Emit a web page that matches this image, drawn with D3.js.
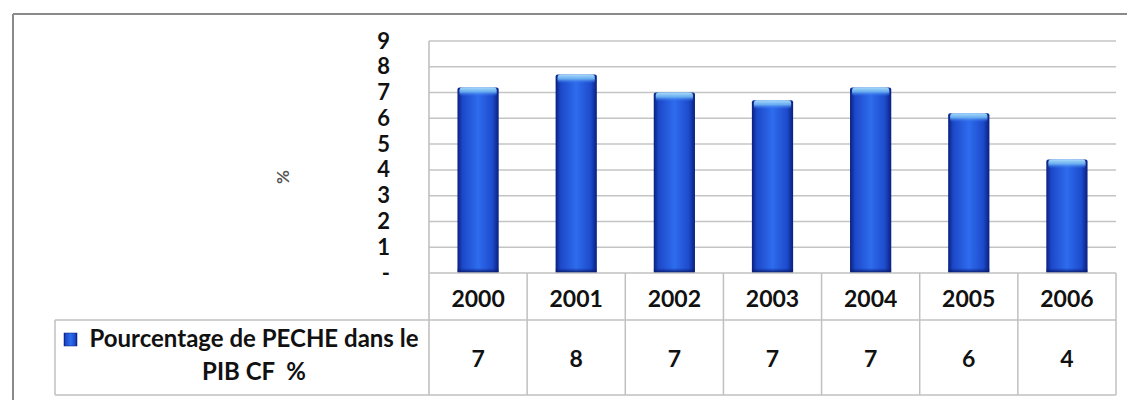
<!DOCTYPE html>
<html>
<head>
<meta charset="utf-8">
<script src="https://cdn.jsdelivr.net/npm/d3@7/dist/d3.min.js"></script>
<style>
  html, body { margin: 0; padding: 0; background: #fff; }
  svg { display: block; }
  text { font-family: Lato, "Open Sans", sans-serif; white-space: pre; }
</style>
</head>
<body>
<svg id="chart" width="1127" height="400"></svg>
<script>
// ---- data ----
const years = ["2000", "2001", "2002", "2003", "2004", "2005", "2006"];
const values = [7.2, 7.7, 7.0, 6.7, 7.2, 6.2, 4.4];
const yTicks = [0, 1, 2, 3, 4, 5, 6, 7, 8, 9];
const seriesName = ["Pourcentage de PECHE dans le", "PIB CF  %"];
const yTitle = "%";

// ---- layout ----
const W = 1127, H = 400;
const plot = { left: 429, right: 1116, top: 41, bottom: 273 };
const table = { yearBottom: 320, bottom: 395, legendLeft: 55 };

const svg = d3.select("#chart");

// outer frame
svg.append("line").attr("x1", 13).attr("x2", W).attr("y1", 14).attr("y2", 14)
  .attr("stroke", "#8a8a8a").attr("stroke-width", 2);
svg.append("line").attr("x1", 13).attr("x2", 13).attr("y1", 14).attr("y2", H)
  .attr("stroke", "#8a8a8a").attr("stroke-width", 2);

const x = d3.scaleBand().domain(years).range([plot.left, plot.right])
  .paddingInner(0.58).paddingOuter(0.29);
const y = d3.scaleLinear().domain([0, 9]).range([plot.bottom, plot.top]);

// gradients
const defs = svg.append("defs");
const gh = defs.append("linearGradient").attr("id", "barH").attr("x1", "0").attr("x2", "1").attr("y1", "0").attr("y2", "0");
[[0, "#0a1f7e"], [0.12, "#1c48c8"], [0.5, "#2e6cee"], [0.85, "#1d4bcc"], [1, "#0a1f7e"]]
  .forEach(([o, c]) => gh.append("stop").attr("offset", o).attr("stop-color", c));
const gTop = defs.append("linearGradient").attr("id", "barTop").attr("x1", "0").attr("x2", "0").attr("y1", "0").attr("y2", "1");
[[0, "#a8dcfa", 1], [0.5, "#6fb4f2", 0.9], [1, "#2e6cee", 0]]
  .forEach(([o, c, a]) => gTop.append("stop").attr("offset", o).attr("stop-color", c).attr("stop-opacity", a));
const gBot = defs.append("linearGradient").attr("id", "barBot").attr("x1", "0").attr("x2", "0").attr("y1", "0").attr("y2", "1");
[[0, "#0a1f7e", 0], [1, "#071660", 1]]
  .forEach(([o, c, a]) => gBot.append("stop").attr("offset", o).attr("stop-color", c).attr("stop-opacity", a));

// gridlines
svg.append("g").selectAll("line").data(yTicks.filter(d => d > 0)).join("line")
  .attr("x1", plot.left).attr("x2", plot.right)
  .attr("y1", d => y(d)).attr("y2", d => y(d))
  .attr("stroke", "#c4c4c4").attr("stroke-width", 1.5);

// y axis (labels only)
const yAxis = d3.axisLeft(y).tickValues(yTicks).tickSize(0).tickPadding(0)
  .tickFormat(d => d === 0 ? "-" : d3.format("d")(d));
const ya = svg.append("g").attr("transform", `translate(390,0)`).call(yAxis);
ya.select(".domain").remove();
ya.selectAll("text").attr("font-size", 22).attr("font-weight", "bold").attr("fill", "#111")
  .attr("font-family", "Lato, sans-serif");

// y title
svg.append("text").attr("transform", "translate(282,177) rotate(-90)")
  .attr("text-anchor", "middle").attr("dominant-baseline", "central")
  .attr("font-size", 17).attr("font-weight", "bold").attr("fill", "#555").text(yTitle);

// bars
const bars = svg.append("g").selectAll("g").data(years.map((yr, i) => ({ yr, v: values[i] }))).join("g");
bars.append("rect")
  .attr("x", d => x(d.yr)).attr("width", x.bandwidth())
  .attr("y", d => y(d.v)).attr("height", d => y(0) - y(d.v))
  .attr("rx", 2).attr("fill", "url(#barH)");
bars.append("rect")
  .attr("x", d => x(d.yr) + 2).attr("width", x.bandwidth() - 4)
  .attr("y", d => y(d.v)).attr("height", 9)
  .attr("rx", 3).attr("fill", "url(#barTop)");
bars.append("rect")
  .attr("x", d => x(d.yr)).attr("width", x.bandwidth())
  .attr("y", y(0) - 5).attr("height", 5)
  .attr("fill", "url(#barBot)");

// plot left border
svg.append("line").attr("x1", plot.left).attr("x2", plot.left).attr("y1", plot.top).attr("y2", table.bottom)
  .attr("stroke", "#bdbdbd").attr("stroke-width", 1.5);

// data table
const tg = svg.append("g");
const lineStyle = sel => sel.attr("stroke", "#c0c0c0").attr("stroke-width", 1.5);
tg.append("line").attr("x1", plot.left).attr("x2", plot.right).attr("y1", plot.bottom).attr("y2", plot.bottom).call(lineStyle);
tg.append("line").attr("x1", table.legendLeft).attr("x2", plot.right).attr("y1", table.yearBottom).attr("y2", table.yearBottom).call(lineStyle);
tg.append("line").attr("x1", table.legendLeft).attr("x2", plot.right).attr("y1", table.bottom).attr("y2", table.bottom).call(lineStyle);
const step = x.step();
tg.selectAll("line.v").data(years).join("line").attr("class", "v")
  .attr("x1", d => x(d) + x.bandwidth() / 2 + step / 2).attr("x2", d => x(d) + x.bandwidth() / 2 + step / 2)
  .attr("y1", plot.bottom).attr("y2", table.bottom).call(lineStyle);
tg.append("line").attr("x1", table.legendLeft).attr("x2", table.legendLeft).attr("y1", table.yearBottom).attr("y2", table.bottom).call(lineStyle);

// year labels
tg.selectAll("text.yr").data(years).join("text").attr("class", "yr")
  .attr("x", d => x(d) + x.bandwidth() / 2).attr("y", (plot.bottom + table.yearBottom) / 2 + 1)
  .attr("text-anchor", "middle").attr("dominant-baseline", "central")
  .attr("font-size", 23).attr("font-weight", "bold").attr("fill", "#111").text(d => d);

// value labels
tg.selectAll("text.val").data(years.map((yr, i) => ({ yr, v: values[i] }))).join("text").attr("class", "val")
  .attr("x", d => x(d.yr) + x.bandwidth() / 2).attr("y", (table.yearBottom + table.bottom) / 2)
  .attr("text-anchor", "middle").attr("dominant-baseline", "central")
  .attr("font-size", 23).attr("font-weight", "bold").attr("fill", "#111").text(d => d3.format(".0f")(d.v));

// legend cell
tg.append("rect").attr("x", 64).attr("y", 333).attr("width", 13).attr("height", 13)
  .attr("fill", "url(#barH)").attr("stroke", "#0a1f7e").attr("stroke-width", 0.5);
tg.selectAll("text.leg").data(seriesName).join("text").attr("class", "leg")
  .attr("x", 254).attr("y", (d, i) => 347 + i * 33)
  .attr("text-anchor", "middle")
  .attr("font-size", 24).attr("font-weight", "bold").attr("fill", "#111").text(d => d);
</script>
</body>
</html>
